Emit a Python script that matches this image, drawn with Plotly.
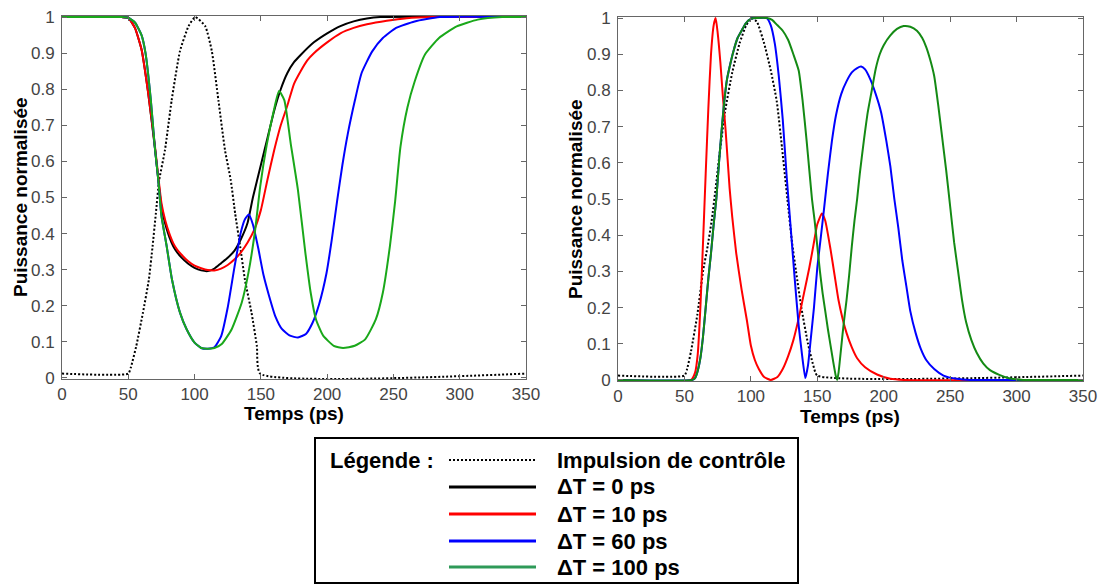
import plotly.graph_objects as go

# ---------------- Data ----------------
# Left panel
t_ctrl_g = [0, 50, 52, 56, 61, 65.5, 68.3, 70.8, 73.3, 77.6, 82.7, 89, 95.5, 100.5, 108, 113, 118, 123, 127.3, 130.6, 134.4, 138, 143, 147, 149.5, 350]
v_ctrl_g = [0.012, 0.012, 0.03, 0.088, 0.18, 0.272, 0.364, 0.456, 0.548, 0.63, 0.769, 0.906, 0.975, 1.0, 0.975, 0.906, 0.769, 0.63, 0.548, 0.456, 0.364, 0.272, 0.18, 0.088, 0.012, 0.012]

t_noir_g = [0, 45, 50, 55, 60, 65, 70, 75, 78, 81, 84, 87, 90, 95, 100, 105, 110, 115, 120, 125, 130, 135, 140, 144, 150, 155, 160, 165, 170, 175, 180, 190, 200, 210, 220, 230, 240, 350]
v_noir_g = [1, 1, 0.998, 0.97, 0.91, 0.79, 0.64, 0.475, 0.425, 0.39, 0.364, 0.347, 0.334, 0.317, 0.305, 0.298, 0.296, 0.303, 0.318, 0.333, 0.352, 0.385, 0.43, 0.50, 0.59, 0.665, 0.74, 0.80, 0.845, 0.875, 0.895, 0.93, 0.955, 0.975, 0.988, 0.996, 1, 1]

t_rouge_g = [0, 45, 50, 55, 60, 65, 70, 75, 78, 81, 84, 87, 90, 95, 100, 105, 110, 115, 120, 125, 130, 135, 140, 145, 150, 155, 160, 165, 170, 175, 180, 185, 190, 200, 210, 220, 230, 245, 260, 280, 350]
v_rouge_g = [1, 1, 0.998, 0.97, 0.91, 0.79, 0.645, 0.485, 0.435, 0.4, 0.373, 0.355, 0.342, 0.324, 0.311, 0.304, 0.299, 0.298, 0.303, 0.313, 0.328, 0.348, 0.375, 0.41, 0.465, 0.55, 0.63, 0.70, 0.755, 0.815, 0.85, 0.88, 0.90, 0.93, 0.955, 0.97, 0.98, 0.99, 0.997, 1, 1]

t_bleu_g = [0, 45, 50, 55, 60, 63, 67, 70, 72.6, 75, 79, 83, 89, 94, 100, 105, 110, 115, 120, 125, 130, 135, 138, 141, 144, 148, 152, 156, 161, 166, 172, 178, 184, 189, 194, 199.5, 203.5, 207.5, 211.5, 215.5, 221, 226, 234, 242, 252, 266, 285, 350]
v_bleu_g = [1, 1, 0.998, 0.985, 0.95, 0.9, 0.77, 0.64, 0.55, 0.45, 0.364, 0.272, 0.181, 0.135, 0.098, 0.083, 0.081, 0.085, 0.115, 0.195, 0.305, 0.405, 0.44, 0.453, 0.425, 0.36, 0.285, 0.23, 0.17, 0.135, 0.117, 0.112, 0.122, 0.153, 0.205, 0.29, 0.383, 0.49, 0.59, 0.675, 0.77, 0.845, 0.905, 0.942, 0.97, 0.988, 1, 1]

t_vert_g = [0, 45, 50, 55, 60, 63, 67, 70, 72.6, 75, 79, 83, 89, 94, 100, 105, 110, 115, 120.5, 128, 135.6, 140.6, 145.7, 149.5, 154.4, 159.7, 163.7, 167.7, 172.5, 178, 183.6, 187.6, 191.6, 197, 205, 212, 220.8, 228.7, 236.7, 242, 247.3, 251.3, 255.3, 260.6, 265.9, 273.8, 284.4, 297.7, 313.6, 332, 350]
v_vert_g = [1, 1, 0.998, 0.985, 0.95, 0.9, 0.77, 0.64, 0.55, 0.45, 0.364, 0.272, 0.181, 0.135, 0.098, 0.083, 0.081, 0.083, 0.094, 0.135, 0.209, 0.291, 0.41, 0.53, 0.645, 0.74, 0.795, 0.77, 0.65, 0.52, 0.346, 0.236, 0.162, 0.117, 0.089, 0.083, 0.089, 0.107, 0.162, 0.236, 0.364, 0.49, 0.64, 0.75, 0.82, 0.896, 0.942, 0.974, 0.993, 1, 1]

# Right panel
t_ctrl_d = [0, 50, 52, 55, 59.7, 64, 67.5, 70.5, 73.5, 76, 80.5, 86, 91.5, 96.5, 100.5, 104.5, 110, 115, 119.5, 123.5, 127.5, 131, 134, 138, 143, 147, 150, 350]
v_ctrl_d = [0.012, 0.012, 0.03, 0.08, 0.18, 0.3, 0.37, 0.44, 0.53, 0.61, 0.74, 0.85, 0.93, 0.98, 1.0, 0.99, 0.93, 0.855, 0.77, 0.64, 0.5, 0.38, 0.3, 0.2, 0.1, 0.04, 0.012, 0.012]

t_rouge_d = [0, 55, 58, 60, 62, 64, 66, 68, 70, 72, 73.5, 75, 77, 79, 81, 84, 86, 89, 93, 97, 100, 103, 106, 110, 115, 120, 124, 128, 132, 136, 140, 144, 147, 150, 153.5, 156, 160, 163, 166, 169, 172, 176, 180, 186, 195, 205, 215, 350]
v_rouge_d = [0, 0, 0.02, 0.07, 0.2, 0.38, 0.57, 0.75, 0.9, 0.98, 1.0, 0.96, 0.88, 0.78, 0.69, 0.53, 0.45, 0.35, 0.25, 0.165, 0.095, 0.055, 0.03, 0.008, 0.0, 0.008, 0.03, 0.065, 0.11, 0.17, 0.24, 0.31, 0.37, 0.43, 0.46, 0.44, 0.36, 0.29, 0.22, 0.17, 0.13, 0.09, 0.06, 0.035, 0.015, 0.003, 0, 0]

t_bleu_d = [0, 56, 58, 60, 62, 64, 66, 68, 70, 72, 74, 76, 78, 80, 82, 84, 87, 90, 93, 96, 100, 104, 112, 115, 118, 121, 124, 127, 130, 133, 136, 138.5, 141, 143, 145, 147.5, 150, 152.5, 155, 158, 161, 164, 168, 172, 176, 180, 183, 186, 190, 194, 198, 202, 205, 208, 211, 214, 217, 220, 224, 228, 232, 238, 245, 255, 265, 350]
v_bleu_d = [0, 0, 0.005, 0.025, 0.06, 0.12, 0.2, 0.28, 0.35, 0.43, 0.5, 0.6, 0.69, 0.77, 0.83, 0.865, 0.91, 0.945, 0.965, 0.985, 0.998, 1.0, 1.0, 0.98, 0.93, 0.84, 0.72, 0.56, 0.42, 0.28, 0.15, 0.07, 0.005, 0.04, 0.11, 0.2, 0.31, 0.39, 0.47, 0.57, 0.66, 0.73, 0.79, 0.825, 0.85, 0.862, 0.866, 0.858, 0.83, 0.79, 0.74, 0.66, 0.59, 0.5, 0.42, 0.33, 0.26, 0.19, 0.13, 0.085, 0.055, 0.03, 0.012, 0.003, 0, 0]

t_vert_d = [0, 56, 58, 60, 62, 64, 66, 68, 70, 72, 74, 76, 78, 80, 82, 84, 87, 90, 93, 96, 100, 104, 112, 116, 120, 124, 128, 132, 136, 139, 142, 144, 146, 148, 150, 152, 154, 156, 158, 160, 162, 164, 165, 166, 168, 170, 172, 174, 176, 178, 180, 182, 185, 188, 191, 194, 197, 200, 205, 210, 215, 220, 225, 229, 232, 235, 238, 241, 244, 247, 250, 253, 256, 259, 262, 266, 270, 275, 280, 287, 295, 305, 350]
v_vert_d = [0, 0, 0.005, 0.025, 0.06, 0.12, 0.2, 0.28, 0.35, 0.43, 0.5, 0.6, 0.69, 0.77, 0.83, 0.865, 0.91, 0.945, 0.965, 0.985, 0.998, 1.0, 1.0, 0.995, 0.98, 0.965, 0.94, 0.9, 0.855, 0.77, 0.66, 0.58, 0.5, 0.44, 0.37, 0.3, 0.24, 0.19, 0.14, 0.095, 0.05, 0.01, 0, 0.02, 0.09, 0.16, 0.22, 0.29, 0.37, 0.44, 0.5, 0.57, 0.66, 0.74, 0.8, 0.86, 0.9, 0.925, 0.952, 0.97, 0.978, 0.976, 0.965, 0.945, 0.92, 0.885, 0.84, 0.76, 0.67, 0.58, 0.48, 0.38, 0.3, 0.22, 0.16, 0.11, 0.075, 0.045, 0.027, 0.014, 0.004, 0, 0]

legende_titre = "Légende :"
legende_labels = ["Impulsion de contrôle", "ΔT = 0 ps", "ΔT = 10 ps", "ΔT = 60 ps", "ΔT = 100 ps"]
x_ticks = [0, 50, 100, 150, 200, 250, 300, 350]
y_ticks = [0, 0.1, 0.2, 0.3, 0.4, 0.5, 0.6, 0.7, 0.8, 0.9, 1]
y_ticklabels = ["0", "0.1", "0.2", "0.3", "0.4", "0.5", "0.6", "0.7", "0.8", "0.9", "1"]

# ---------------- Styling ----------------
W, H = 1101, 584
FONT = "Arial, Liberation Sans, sans-serif"
C_RED, C_BLUE = "#ff0000", "#0000ff"
C_GREEN_L, C_GREEN_R, C_GREEN_LEG = "#1aa81a", "#148a14", "#2e9a58"
LW = 2


def fx(px):
    return px / W


def fy(py):
    return 1 - py / H


fig = go.Figure()


def add_line(t, v, color, xa, ya, dash=None):
    fig.add_trace(go.Scatter(
        x=t, y=v, mode="lines", xaxis=xa, yaxis=ya, showlegend=False,
        line=dict(color=color, width=LW, dash=dash, shape="spline", smoothing=0.5),
        hoverinfo="skip"))


# left panel
add_line(t_ctrl_g, v_ctrl_g, "#000000", "x", "y", dash="2px,2px")
add_line(t_noir_g, v_noir_g, "#000000", "x", "y")
add_line(t_rouge_g, v_rouge_g, C_RED, "x", "y")
add_line(t_bleu_g, v_bleu_g, C_BLUE, "x", "y")
add_line(t_vert_g, v_vert_g, C_GREEN_L, "x", "y")
# right panel
add_line(t_ctrl_d, v_ctrl_d, "#000000", "x2", "y2", dash="2px,2px")
add_line(t_rouge_d, v_rouge_d, C_RED, "x2", "y2")
add_line(t_bleu_d, v_bleu_d, C_BLUE, "x2", "y2")
add_line(t_vert_d, v_vert_d, C_GREEN_R, "x2", "y2")

axis_common = dict(
    showgrid=False, zeroline=False, showline=True, mirror="ticks", automargin=False,
    linecolor="#666666", linewidth=1, ticks="inside", ticklen=5,
    tickcolor="#666666", tickfont=dict(family=FONT, size=17, color="#444444"),
)

fig.update_layout(
    template="none",
    width=W, height=H, margin=dict(l=0, r=0, t=0, b=0, pad=0), autosize=False,
    paper_bgcolor="white", plot_bgcolor="white",
    xaxis=dict(domain=[fx(62), fx(526)], range=[0, 350], tickvals=x_ticks,
               anchor="y", **axis_common),
    yaxis=dict(domain=[fy(379), fy(16)], range=[-0.003, 1.003], tickvals=y_ticks,
               ticktext=y_ticklabels, anchor="x", ticklabelstandoff=3, **axis_common),
    xaxis2=dict(domain=[fx(618), fx(1083)], range=[0, 350], tickvals=x_ticks,
                anchor="y2", **axis_common),
    yaxis2=dict(domain=[fy(381), fy(17)], range=[-0.003, 1.003], tickvals=y_ticks,
                ticktext=y_ticklabels, anchor="x2", ticklabelstandoff=3, **axis_common),
)

ann = []
title_font = dict(family=FONT, size=19, color="#000000")
ann.append(dict(text="<b>Temps (ps)</b>", x=fx(294), y=fy(413), xref="paper", yref="paper",
                showarrow=False, font=title_font, xanchor="center", yanchor="middle"))
ann.append(dict(text="<b>Temps (ps)</b>", x=fx(850), y=fy(416), xref="paper", yref="paper",
                showarrow=False, font=title_font, xanchor="center", yanchor="middle"))
ann.append(dict(text="<b>Puissance normalisée</b>", x=fx(21), y=fy(197), xref="paper", yref="paper",
                showarrow=False, font=title_font, textangle=-90, xanchor="center", yanchor="middle"))
ann.append(dict(text="<b>Puissance normalisée</b>", x=fx(576), y=fy(199), xref="paper", yref="paper",
                showarrow=False, font=title_font, textangle=-90, xanchor="center", yanchor="middle"))

# legend box
shapes = [dict(type="rect", xref="paper", yref="paper", x0=fx(315), x1=fx(798), y0=fy(583), y1=fy(438),
               line=dict(color="#000000", width=2), fillcolor="rgba(0,0,0,0)")]
rows = [460, 487, 514, 541, 567]
leg_colors = ["#000000", "#000000", C_RED, C_BLUE, C_GREEN_LEG]
leg_dash = ["2px,2px", "solid", "solid", "solid", "solid"]
leg_font = dict(family=FONT, size=22, color="#000000")
ann.append(dict(text="<b>" + legende_titre + "</b>", x=fx(328), y=fy(rows[0]), xref="paper", yref="paper",
                showarrow=False, font=leg_font, xanchor="left", yanchor="middle"))
for r, c, d, lab in zip(rows, leg_colors, leg_dash, legende_labels):
    shapes.append(dict(type="line", xref="paper", yref="paper", x0=fx(449), x1=fx(536), y0=fy(r), y1=fy(r),
                       line=dict(color=c, width=3 if d == "solid" else 2, dash=d)))
    ann.append(dict(text="<b>" + lab + "</b>", x=fx(555), y=fy(r), xref="paper", yref="paper",
                    showarrow=False, font=leg_font, xanchor="left", yanchor="middle"))

fig.update_layout(annotations=ann, shapes=shapes)
fig.write_html("out.html", config={"displayModeBar": False},
               post_script="document.body.style.margin='0px';")
